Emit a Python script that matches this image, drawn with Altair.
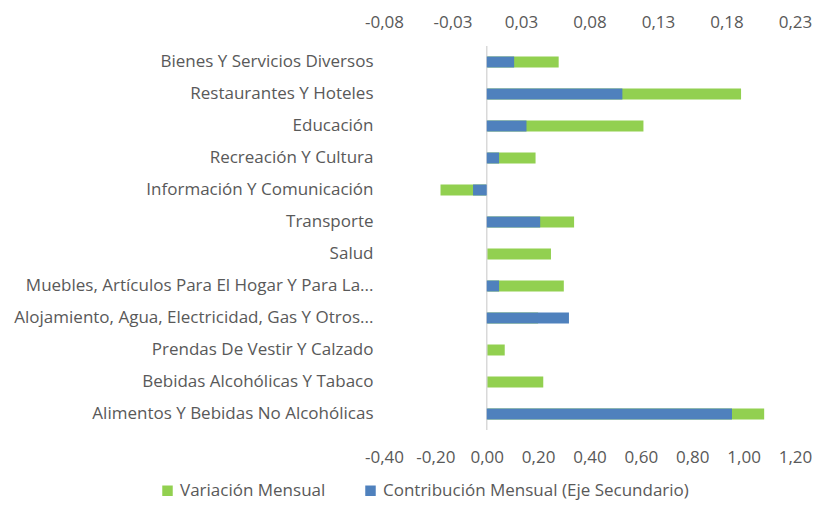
import altair as alt
import pandas as pd

categorias = [
    "Bienes Y Servicios Diversos",
    "Restaurantes Y Hoteles",
    "Educación",
    "Recreación Y Cultura",
    "Información Y Comunicación",
    "Transporte",
    "Salud",
    "Muebles, Artículos Para El Hogar Y Para La...",
    "Alojamiento, Agua, Electricidad, Gas Y Otros...",
    "Prendas De Vestir Y Calzado",
    "Bebidas Alcohólicas Y Tabaco",
    "Alimentos Y Bebidas No Alcohólicas",
]
variacion = [0.28, 0.99, 0.61, 0.19, -0.18, 0.34, 0.25, 0.30, 0.20, 0.07, 0.22, 1.08]
contribucion = [0.020, 0.099, 0.029, 0.009, -0.010, 0.039, 0.0, 0.009, 0.060, 0.0, 0.0, 0.179]

series = ["Variación Mensual", "Contribución Mensual (Eje Secundario)"]
colores = ["#92D050", "#4F81BD"]

ticks_bottom = [-0.40, -0.20, 0.00, 0.20, 0.40, 0.60, 0.80, 1.00, 1.20]
ticks_top = [-0.075, -0.025, 0.025, 0.075, 0.125, 0.175, 0.225]

df = pd.DataFrame({
    "categoria": categorias * 2,
    "serie": [series[0]] * len(categorias) + [series[1]] * len(categorias),
    "valor": variacion + contribucion,
})

FONT = "Open Sans"
GREY = "#595959"
FS = 17

lbl = "replace(replace(format(datum.value + (datum.value < 0 ? -0.0001 : 0.0001), '.2f'), '.', ','), '\u2212', '-')"

y_enc = alt.Y("categoria:N", sort=categorias, title=None,
              scale=alt.Scale(paddingInner=0.0, paddingOuter=0.0),
              axis=alt.Axis(domain=False, ticks=False, labelPadding=11, labelLimit=400,
                            labelFontSize=FS, labelColor=GREY, labelFont=FONT))

color_enc = alt.Color("serie:N", scale=alt.Scale(domain=series, range=colores),
                      legend=alt.Legend(title=None, orient="none", direction="horizontal",
                                        legendX=-225, legendY=436, symbolType="square",
                                        symbolSize=110, symbolStrokeWidth=0,
                                        labelFontSize=FS, labelColor=GREY, labelFont=FONT,
                                        columnPadding=36, labelLimit=500))

green = alt.Chart(df).transform_filter(alt.datum.serie == series[0]).mark_bar(size=11).encode(
    x=alt.X("valor:Q", title=None,
            scale=alt.Scale(domain=[-0.4, 1.2], nice=False, zero=False),
            axis=alt.Axis(orient="bottom", values=ticks_bottom, labelExpr=lbl, grid=False,
                          domain=False, ticks=False, labelPadding=19, labelFontSize=FS,
                          labelColor=GREY, labelFont=FONT, labelFlush=False)),
    y=y_enc,
    color=color_enc,
)

zero_line = alt.Chart(pd.DataFrame({"x": [0.0]})).mark_rule(color="#D9D9D9", strokeWidth=1.5).encode(
    x=alt.X("x:Q", scale=alt.Scale(domain=[-0.4, 1.2], nice=False, zero=False), axis=None),
    y=alt.value(0), y2=alt.value(384),
)

blue = alt.Chart(df).transform_filter(alt.datum.serie == series[1]).mark_bar(size=11).encode(
    x=alt.X("valor:Q", title=None,
            scale=alt.Scale(domain=[-0.075, 0.225], nice=False, zero=False),
            axis=alt.Axis(orient="top", values=ticks_top, labelExpr=lbl, grid=False,
                          domain=False, ticks=False, labelPadding=15, labelFontSize=FS,
                          labelColor=GREY, labelFont=FONT, labelFlush=False)),
    y=y_enc,
    color=color_enc,
)

chart = alt.layer(green, zero_line, blue).resolve_scale(x="independent").properties(
    width=411, height=384,
    background="white",
    autosize=alt.AutoSizeParams(type="none"),
    padding={"left": 376, "top": 38, "right": 17, "bottom": 74},
).configure_view(strokeWidth=0, stroke="transparent")

chart.save("out.html", embed_options={"renderer": "svg", "actions": False})
